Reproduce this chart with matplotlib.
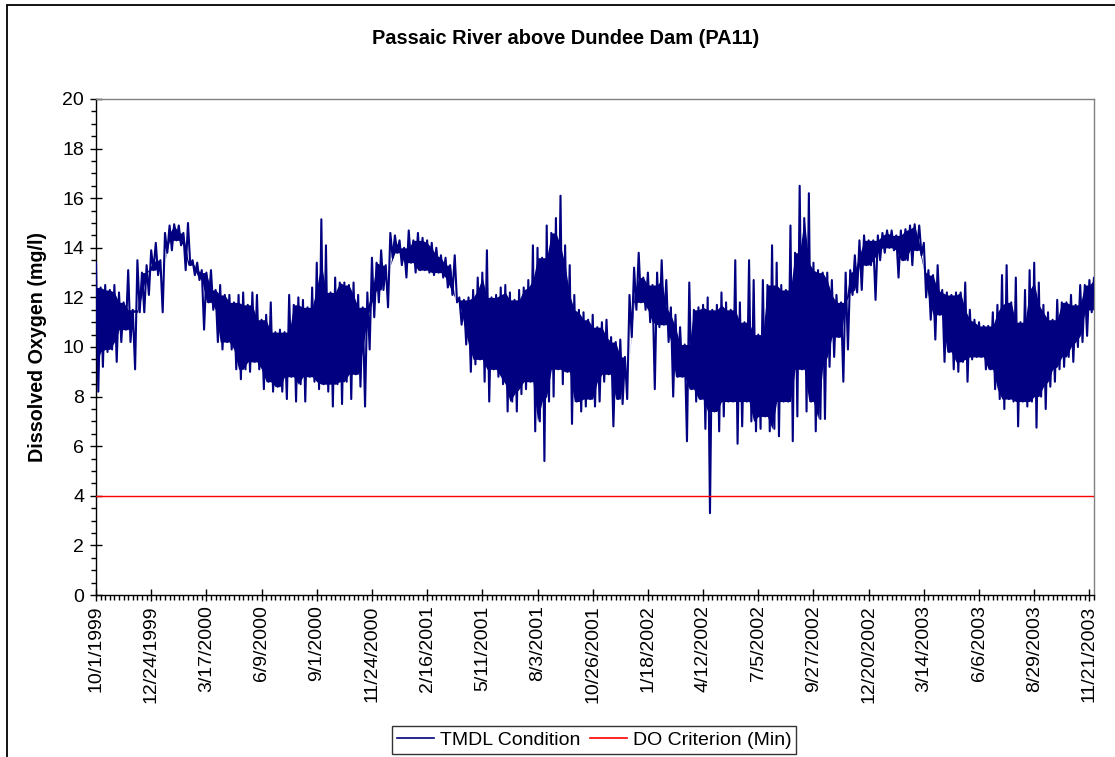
import numpy as np
import matplotlib
matplotlib.use("Agg")
import matplotlib.pyplot as plt
import matplotlib.dates as mdates
from matplotlib.ticker import MultipleLocator, FixedLocator, NullFormatter
from matplotlib.patches import Rectangle
from datetime import datetime, timedelta

plt.rcParams['font.family'] = ['Liberation Sans', 'DejaVu Sans']

# ---------------- data ----------------
title = "Passaic River above Dundee Dam (PA11)"
y_label = "Dissolved Oxygen (mg/l)"
series_names = ["TMDL Condition", "DO Criterion (Min)"]

start_date = "10/1/1999"
end_date = "11/28/2003"
step_days = 7  # one high and one low reading per week

tick_labels = ["10/1/1999", "12/24/1999", "3/17/2000", "6/9/2000", "9/1/2000",
               "11/24/2000", "2/16/2001", "5/11/2001", "8/3/2001", "10/26/2001",
               "1/18/2002", "4/12/2002", "7/5/2002", "9/27/2002", "12/20/2002",
               "3/14/2003", "6/6/2003", "8/29/2003", "11/21/2003"]

weekly_high = [
    13.4, 12.4, 12.5, 12.3, 12.5, 12.2, 11.8, 13.1, 11.5, 13.5,
    13.0, 13.3, 13.9, 14.2, 13.5, 14.6, 14.9, 14.95, 14.9, 14.6,
    15.0, 13.5, 13.4, 13.1, 13.0, 13.1, 12.3, 12.5, 12.1, 12.1,
    11.8, 12.1, 12.2, 11.7, 12.2, 12.1, 11.1, 11.3, 11.8, 10.6,
    10.7, 10.6, 12.1, 11.7, 12.0, 11.9, 11.6, 12.4, 13.4, 15.15,
    14.1, 12.2, 12.8, 12.6, 12.6, 12.5, 12.6, 12.1, 11.6, 12.2,
    13.6, 13.4, 13.9, 13.3, 14.6, 14.5, 14.3, 14.0, 14.7, 14.3,
    14.6, 14.4, 14.3, 14.2, 14.0, 13.7, 13.6, 13.3, 13.7, 12.0,
    11.9, 12.0, 12.3, 12.8, 13.0, 13.9, 12.0, 12.1, 12.4, 12.5,
    12.2, 11.9, 12.3, 12.4, 12.7, 14.1, 14.0, 13.6, 14.9, 14.6,
    15.2, 16.1, 14.1, 13.3, 12.1, 11.5, 11.4, 11.1, 11.3, 10.8,
    11.0, 11.1, 10.4, 10.2, 10.3, 9.6, 12.1, 13.2, 13.8, 12.8,
    13.0, 12.5, 13.0, 13.5, 12.7, 11.6, 11.3, 10.8, 10.1, 12.6,
    11.5, 11.6, 11.7, 12.0, 11.5, 11.7, 12.2, 11.8, 11.5, 13.5,
    11.8, 11.0, 13.5, 12.7, 10.5, 12.7, 12.5, 14.1, 13.4, 12.5,
    12.3, 14.9, 13.8, 16.5, 15.2, 16.2, 13.4, 13.1, 13.0, 13.0,
    12.7, 12.1, 11.8, 13.0, 13.1, 13.7, 14.3, 14.5, 14.3, 14.3,
    14.5, 14.6, 14.7, 14.7, 14.5, 14.7, 14.75, 14.9, 14.95, 14.9,
    14.2, 13.1, 12.9, 13.3, 12.3, 12.2, 12.1, 12.2, 12.2, 12.6,
    11.5, 11.1, 11.0, 10.85, 10.85, 11.4, 11.7, 12.9, 13.3, 11.8,
    12.8, 11.0, 12.3, 13.1, 13.4, 12.6, 11.7, 11.4, 11.1, 11.9,
    11.8, 11.8, 12.1, 11.7, 12.5, 12.5, 12.7, 12.8]

weekly_low = [
    8.2, 9.2, 9.8, 9.9, 9.4, 10.2, 10.7, 10.2, 9.1, 11.4,
    11.4, 12.1, 13.1, 12.9, 11.4, 13.8, 13.9, 14.3, 14.1, 13.1,
    13.3, 12.9, 12.7, 10.7, 11.8, 11.5, 10.2, 9.9, 10.2, 9.9,
    9.1, 8.7, 9.1, 9.0, 9.4, 9.1, 8.3, 8.6, 8.2, 8.4,
    8.2, 7.9, 8.8, 7.8, 8.5, 7.8, 8.8, 8.6, 8.3, 8.5,
    8.2, 7.6, 8.5, 7.7, 8.6, 7.9, 8.9, 8.4, 7.6, 9.9,
    11.2, 11.8, 12.3, 11.6, 13.6, 13.8, 13.3, 12.8, 13.4, 13.0,
    13.1, 13.1, 13.0, 12.9, 13.0, 12.8, 12.4, 12.1, 11.8, 10.9,
    10.1, 9.0, 9.3, 9.5, 8.6, 7.8, 9.1, 8.8, 8.5, 7.4,
    7.8, 7.4, 8.1, 8.3, 8.6, 6.6, 7.0, 5.4, 7.8, 8.0,
    9.1, 8.5, 9.0, 6.9, 7.8, 7.4, 7.6, 7.9, 7.6, 7.8,
    8.6, 8.9, 6.8, 7.9, 7.7, 7.9, 10.4, 11.5, 11.8, 11.5,
    11.0, 8.3, 10.8, 10.9, 10.2, 8.0, 8.8, 8.8, 6.2, 8.3,
    7.8, 7.9, 6.7, 3.3, 7.4, 6.6, 7.2, 7.8, 7.8, 6.1,
    6.8, 7.8, 7.0, 6.6, 6.7, 7.2, 6.6, 6.7, 6.4, 7.8,
    7.8, 6.2, 7.2, 9.1, 7.4, 7.8, 6.6, 7.1, 7.1, 9.2,
    9.6, 10.4, 8.6, 9.9, 12.1, 12.2, 12.3, 13.3, 13.3, 11.9,
    13.5, 13.8, 14.0, 13.9, 12.8, 13.5, 13.5, 13.3, 13.9, 13.7,
    12.0, 11.1, 10.3, 11.3, 9.4, 9.8, 9.1, 9.0, 9.4, 8.6,
    9.5, 9.6, 9.6, 9.1, 9.1, 8.3, 7.9, 7.5, 7.9, 7.8,
    6.8, 7.8, 7.6, 7.8, 6.75, 8.0, 7.5, 8.4, 8.6, 9.1,
    9.2, 9.6, 9.4, 10.0, 10.2, 10.45, 11.4, 11.5]

do_criterion = 4.0

# ---------------- build series ----------------
fmt = "%m/%d/%Y"
t0 = datetime.strptime(start_date, fmt)
t_end = datetime.strptime(end_date, fmt)
tick_dates = [datetime.strptime(s, fmt) for s in tick_labels]

t_high = [t0 + timedelta(days=step_days * k) for k in range(len(weekly_high))]
t_low = [t0 + timedelta(days=step_days * k + step_days / 2) for k in range(len(weekly_low))]

times, values = [], []
for th, hi, tl, lo in zip(t_high, weekly_high, t_low, weekly_low):
    times += [th, tl]
    values += [hi, lo]

# range covered every day of a 3-week window (solid core of the daily swing)
hi_arr = np.array(weekly_high)
lo_arr = np.array(weekly_low)
hi_pad = np.pad(hi_arr, 1, mode="edge")
lo_pad = np.pad(lo_arr, 1, mode="edge")
core_top = np.minimum(np.minimum(hi_pad[:-2], hi_pad[1:-1]), hi_pad[2:])
core_bot = np.maximum(np.maximum(lo_pad[:-2], lo_pad[1:-1]), lo_pad[2:])
core_bot = np.minimum(core_bot, core_top)

navy = "#000080"

# ---------------- figure ----------------
W, H = 1115, 757
fig = plt.figure(figsize=(W / 100, H / 100), dpi=100)
fig.patch.set_facecolor("white")

ax = fig.add_axes([96 / W, 1 - 595 / H, (1094 - 96) / W, (595 - 99) / H])

ax.fill_between(mdates.date2num(t_high), core_bot, core_top, color=navy, lw=0, zorder=2)
line_do, = ax.plot(times, values, color=navy, lw=1.5, solid_joinstyle="round",
                   label=series_names[0], zorder=3)
line_crit = ax.axhline(do_criterion, color="#ff0000", lw=1.0, label=series_names[1], zorder=4)

ax.set_xlim(t0, t_end)
ax.set_ylim(0, 20)

ax.yaxis.set_major_locator(MultipleLocator(2))
ax.yaxis.set_minor_locator(MultipleLocator(0.5))
ax.xaxis.set_major_locator(FixedLocator(mdates.date2num(tick_dates)))
ax.set_xticklabels(tick_labels, rotation=90, fontsize=14)
minor_days = np.arange(0, (t_end - t0).days + 1, 7)
ax.xaxis.set_minor_locator(FixedLocator(mdates.date2num([t0 + timedelta(days=int(d)) for d in minor_days])))
ax.xaxis.set_minor_formatter(NullFormatter())

ax.tick_params(axis="both", which="major", direction="inout", length=9, width=1, color="black")
ax.tick_params(axis="both", which="minor", direction="out", length=3.6, width=1, color="black")
ax.tick_params(axis="y", which="major", labelsize=14, pad=4)
ax.tick_params(axis="x", which="major", pad=3)

for s in ["left", "bottom"]:
    ax.spines[s].set_color("black")
    ax.spines[s].set_linewidth(1)
for s in ["top", "right"]:
    ax.spines[s].set_color("#808080")
    ax.spines[s].set_linewidth(1)

fig.text(566 / W, 1 - 38 / H, title, ha="center", va="center", fontsize=14.4, fontweight="bold")
fig.text(38 / W, 1 - 347 / H, y_label, ha="center", va="center", rotation=90,
         fontsize=14.2, fontweight="bold")

leg = fig.legend(handles=[line_do, line_crit], loc="center", bbox_to_anchor=(594 / W, 1 - 740 / H),
                 ncol=2, fontsize=14, frameon=True, fancybox=False, handlelength=1.9,
                 handletextpad=0.3, columnspacing=0.5, borderpad=0.25, borderaxespad=0)
leg.get_frame().set_edgecolor("black")
leg.get_frame().set_linewidth(1)
for h in leg.legend_handles:
    h.set_linewidth(1.2)

fig.patches.append(Rectangle((7 / W, -0.1), 1.2, (1 - 5 / H) + 0.1, transform=fig.transFigure,
                             fill=False, edgecolor="black", lw=1.3))

fig.savefig("out.png", dpi=100, facecolor="white")
